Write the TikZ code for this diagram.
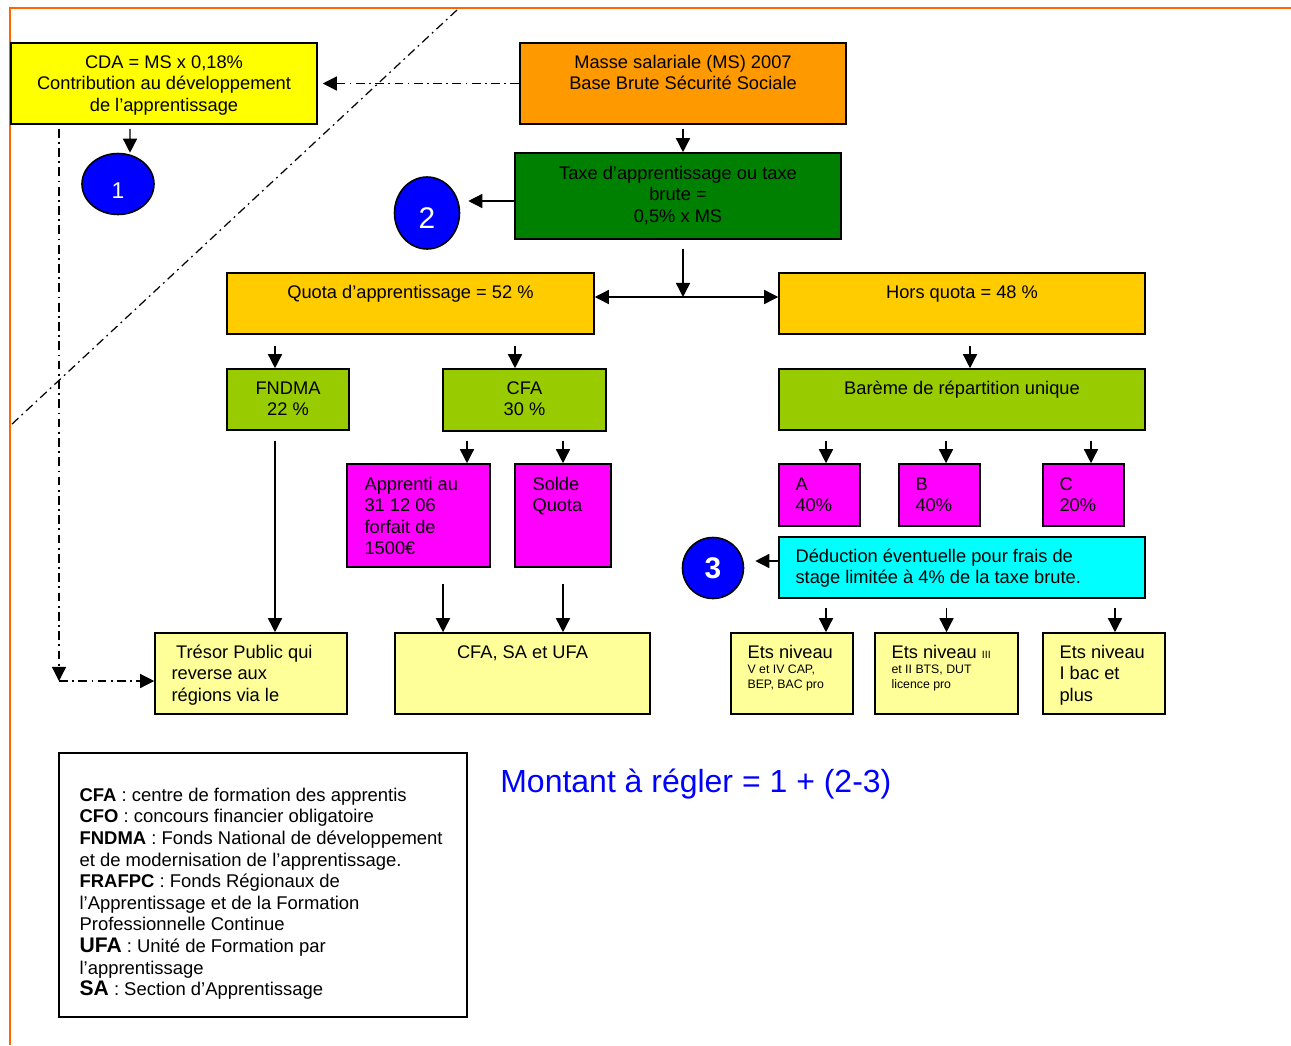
\documentclass[tikz,border=0pt]{standalone}
\usepackage{fontspec}
\setmainfont{Liberation Sans}
\usetikzlibrary{arrows.meta,shapes.geometric}

\begin{document}
\begin{tikzpicture}[x=0.02cm,y=-0.02cm,
    font=\fontsize{10.4}{12.2}\selectfont,
    box/.style={draw, line width=0.9pt, inner sep=0pt},
    txt/.style={anchor=base, align=flush center, inner sep=0pt},
    txtl/.style={anchor=base west, align=flush left, inner sep=0pt},
    pastille/.style={ellipse, draw, line width=0.9pt, fill=rond, text=white, inner sep=0pt},
    arr/.style={-{Triangle[length=8pt,width=8pt]}, line width=0.8pt},
    dd/.style={line width=0.7pt, dash pattern=on 5pt off 2.5pt on 1pt off 2.5pt}]
    \definecolor{bord}{RGB}{255,102,0}
    \definecolor{jaune}{RGB}{255,255,0}
    \definecolor{orangems}{RGB}{255,153,0}
    \definecolor{vert}{RGB}{0,128,0}
    \definecolor{or}{RGB}{255,204,0}
    \definecolor{vertclair}{RGB}{153,204,0}
    \definecolor{rose}{RGB}{255,0,255}
    \definecolor{turquoise}{RGB}{0,255,255}
    \definecolor{jaunepale}{RGB}{255,255,153}
    \definecolor{rond}{RGB}{0,0,255}

    \useasboundingbox (0,0) rectangle (1291,1045);
    \draw[bord, line width=1.2pt] (1291,8) -- (10,8) -- (10,1045);
    \draw[dd] (457,10) -- (11,425);

    % boites du haut
    \node[box, fill=jaune, minimum width=6.12cm, minimum height=1.62cm] (cda) at (164,83.5) {};
    \node[txt, text width=6cm] (cda-t) at ([yshift=-0.52cm]cda.north) {CDA = MS x 0,18\%\\Contribution au  développement\\de l’apprentissage};
    \node[box, fill=orangems, minimum width=6.52cm, minimum height=1.62cm] (masse) at (683,83.5) {};
    \node[txt, text width=6.3cm] (masse-t) at ([yshift=-0.52cm]masse.north) {Masse salariale (MS) 2007\\Base Brute Sécurité Sociale};
    \node[box, fill=vert, minimum width=6.52cm, minimum height=1.72cm] (taxe) at (678,196) {};
    \node[txt, text width=6.3cm] (taxe-t) at ([yshift=-0.54cm]taxe.north) {Taxe d’apprentissage ou taxe\\brute =\\0,5\% x MS};

    \node[pastille, minimum width=1.44cm, minimum height=1.22cm, font=\fontsize{13}{15}\selectfont] (un) at (118,184) {\raisebox{-0.285cm}[0pt][0pt]{1}};
    \node[pastille, minimum width=1.30cm, minimum height=1.44cm, font=\fontsize{17}{20}\selectfont] (deux) at (427,213) {\raisebox{-0.315cm}[0pt][0pt]{2}};
    \node[pastille, minimum width=1.22cm, minimum height=1.22cm, font=\fontsize{17}{20}\selectfont\bfseries] (trois) at (713,568) {3};

    % quota / hors quota
    \node[box, fill=or, minimum width=7.34cm, minimum height=1.22cm] (quota) at (410.5,303.5) {};
    \node[txt, text width=7cm] (quota-t) at ([yshift=-0.52cm]quota.north) {Quota d’apprentissage = 52 \%};
    \node[box, fill=or, minimum width=7.32cm, minimum height=1.22cm] (horsquota) at (962,303.5) {};
    \node[txt, text width=7cm] (horsquota-t) at ([yshift=-0.52cm]horsquota.north) {Hors quota = 48 \%};

    \node[box, fill=vertclair, minimum width=2.44cm, minimum height=1.22cm] (fndma) at (288,399.5) {};
    \node[txt, text width=2.2cm] (fndma-t) at ([yshift=-0.52cm]fndma.north) {FNDMA\\22 \%};
    \node[box, fill=vertclair, minimum width=3.26cm, minimum height=1.24cm] (cfa) at (524.5,400) {};
    \node[txt, text width=3cm] (cfa-t) at ([yshift=-0.52cm]cfa.north) {CFA\\30 \%};
    \node[box, fill=vertclair, minimum width=7.32cm, minimum height=1.22cm] (bareme) at (962,399.5) {};
    \node[txt, text width=7cm] (bareme-t) at ([yshift=-0.52cm]bareme.north) {Barème de répartition unique};

    % cases roses
    \node[box, fill=rose, minimum width=2.86cm, minimum height=2.06cm] (apprenti) at (418.5,515.5) {};
    \node[txtl, text width=2.4cm] (apprenti-t) at ([xshift=0.36cm,yshift=-0.54cm]apprenti.north west) {Apprenti au\\31 12 06\\forfait de\\1500€};
    \node[box, fill=rose, minimum width=1.92cm, minimum height=2.06cm] (solde) at (563,515.5) {};
    \node[txtl, text width=1.5cm] (solde-t) at ([xshift=0.36cm,yshift=-0.54cm]solde.north west) {Solde\\Quota};
    \node[box, fill=rose, minimum width=1.62cm, minimum height=1.24cm] (partA) at (819.5,495) {};
    \node[txtl, text width=1.2cm] (partA-t) at ([xshift=0.34cm,yshift=-0.54cm]partA.north west) {A\\40\%};
    \node[box, fill=rose, minimum width=1.62cm, minimum height=1.24cm] (partB) at (939.5,495) {};
    \node[txtl, text width=1.2cm] (partB-t) at ([xshift=0.34cm,yshift=-0.54cm]partB.north west) {B\\40\%};
    \node[box, fill=rose, minimum width=1.62cm, minimum height=1.24cm] (partC) at (1083.5,495) {};
    \node[txtl, text width=1.2cm] (partC-t) at ([xshift=0.34cm,yshift=-0.54cm]partC.north west) {C\\20\%};

    \node[box, fill=turquoise, minimum width=7.32cm, minimum height=1.22cm] (deduc) at (962,567.5) {};
    \node[txtl, text width=6.9cm] (deduc-t) at ([xshift=0.34cm,yshift=-0.52cm]deduc.north west) {Déduction éventuelle pour frais de\\stage limitée à 4\% de la taxe brute.};

    % beneficiaires
    \node[box, fill=jaunepale, minimum width=3.84cm, minimum height=1.62cm] (tresor) at (251,673.5) {};
    \node[txtl, text width=3.4cm] (tresor-t) at ([xshift=0.34cm,yshift=-0.52cm]tresor.north west) {\hspace{0.25em}Trésor Public qui\\reverse aux\\régions via le};
    \node[box, fill=jaunepale, minimum width=5.10cm, minimum height=1.62cm] (cfasa) at (522.5,673.5) {};
    \node[txt, text width=4.8cm] (cfasa-t) at ([yshift=-0.52cm]cfasa.north) {CFA, SA et UFA};
    \node[box, fill=jaunepale, minimum width=2.44cm, minimum height=1.62cm] (etsA) at (792,673.5) {};
    \node[txtl, text width=2.1cm] (etsA-t) at ([xshift=0.34cm,yshift=-0.52cm]etsA.north west) {Ets niveau\par{\fontsize{7}{8.5}\selectfont V et IV CAP,\\BEP, BAC pro\par}};
    \node[box, fill=jaunepale, minimum width=2.86cm, minimum height=1.62cm] (etsB) at (946.5,673.5) {};
    \node[txtl, text width=2.5cm] (etsB-t) at ([xshift=0.34cm,yshift=-0.52cm]etsB.north west) {Ets niveau {\fontsize{6}{8.5}\selectfont III}\par{\fontsize{7}{8.5}\selectfont et II BTS, DUT\\licence pro\par}};
    \node[box, fill=jaunepale, minimum width=2.44cm, minimum height=1.62cm] (etsC) at (1104,673.5) {};
    \node[txtl, text width=2.1cm] (etsC-t) at ([xshift=0.34cm,yshift=-0.52cm]etsC.north west) {Ets niveau\\I bac et\\plus};

    % legende
    \node[box, fill=white, minimum width=8.16cm, minimum height=5.28cm] (legende) at (263,885) {};
    \node[txtl, text width=7.7cm, font=\fontsize{10.5}{12.3}\selectfont] (legende-t) at ([xshift=0.42cm,yshift=-0.98cm]legende.north west) {\textbf{CFA} : centre de formation des apprentis\\
      \textbf{CFO} : concours financier obligatoire\\
      \textbf{FNDMA} : Fonds National de développement\\
      et de modernisation de l’apprentissage.\\
      \textbf{FRAFPC} : Fonds Régionaux de\\
      l’Apprentissage et  de la Formation\\
      Professionnelle Continue\\
      {\fontsize{12}{12.3}\selectfont\textbf{UFA}} : Unité de Formation par\\
      l’apprentissage\\
      {\fontsize{12}{12.3}\selectfont\textbf{SA}} : Section d’Apprentissage};

    \node[anchor=base west, inner sep=0pt, text=rond, font=\fontsize{18.2}{21}\selectfont] (montant) at (500,792) {Montant à régler = 1 + (2-3)};

    % fleches
    \coordinate (split) at (683,297);
    \coordinate (coin) at (59,681);
    \draw[arr, dd, shorten >=0.1cm] (masse.west) -- (cda.east);
    \draw[arr, shorten <=0.08cm] ([xshift=-0.68cm]cda.south) -- ([xshift=0.24cm]un.north);
    \draw[arr, shorten <=0.08cm] (masse.south) -- (masse.south |- taxe.north);
    \draw[arr, shorten >=0.16cm] ([yshift=-0.1cm]taxe.west) -- ([yshift=-0.1cm]taxe.west -| deux.east);
    \draw[arr, shorten <=0.18cm] (taxe.south -| split) -- (split);
    \draw[{Triangle[length=8pt,width=8pt]}-{Triangle[length=8pt,width=8pt]}, line width=0.8pt] (quota.east |- split) -- (horsquota.west |- split);
    \draw[arr, shorten <=0.22cm] ([xshift=-0.26cm]fndma.north |- quota.south) -- ([xshift=-0.26cm]fndma.north);
    \draw[arr, shorten <=0.22cm] ([xshift=-0.19cm]cfa.north |- quota.south) -- ([xshift=-0.19cm]cfa.north);
    \draw[arr, shorten <=0.22cm] ([xshift=0.16cm]bareme.north |- horsquota.south) -- ([xshift=0.16cm]bareme.north);
    \draw[arr, shorten <=0.18cm] ([xshift=0.97cm]apprenti.north |- cfa.south) -- ([xshift=0.97cm]apprenti.north);
    \draw[arr, shorten <=0.18cm] (solde.north |- cfa.south) -- (solde.north);
    \draw[arr, shorten <=0.2cm] ([xshift=0.13cm]partA.north |- bareme.south) -- ([xshift=0.13cm]partA.north);
    \draw[arr, shorten <=0.2cm] ([xshift=0.13cm]partB.north |- bareme.south) -- ([xshift=0.13cm]partB.north);
    \draw[arr, shorten <=0.2cm] ([xshift=0.15cm]partC.north |- bareme.south) -- ([xshift=0.15cm]partC.north);
    \draw[arr, shorten >=0.22cm] ([yshift=0.13cm]deduc.west) -- ([yshift=0.13cm]deduc.west -| trois.east);
    \draw[arr, shorten <=0.2cm] ([xshift=0.48cm]tresor.north |- fndma.south) -- ([xshift=0.48cm]tresor.north);
    \draw[arr, shorten <=0.32cm] ([xshift=-1.59cm]cfasa.north |- apprenti.south) -- ([xshift=-1.59cm]cfasa.north);
    \draw[arr, shorten <=0.32cm] ([xshift=0.81cm]cfasa.north |- solde.south) -- ([xshift=0.81cm]cfasa.north);
    \draw[arr, shorten <=0.18cm] ([xshift=0.68cm]etsA.north |- deduc.south) -- ([xshift=0.68cm]etsA.north);
    \draw[arr, shorten <=0.18cm] (etsB.north |- deduc.south) -- (etsB.north);
    \draw[arr, shorten <=0.18cm] ([xshift=0.22cm]etsC.north |- deduc.south) -- ([xshift=0.22cm]etsC.north);
    \draw[arr, dd, shorten <=0.08cm] (cda.south -| coin) -- (coin);
    \draw[arr, dd] (coin) -- (coin -| tresor.west);
\end{tikzpicture}
\end{document}
